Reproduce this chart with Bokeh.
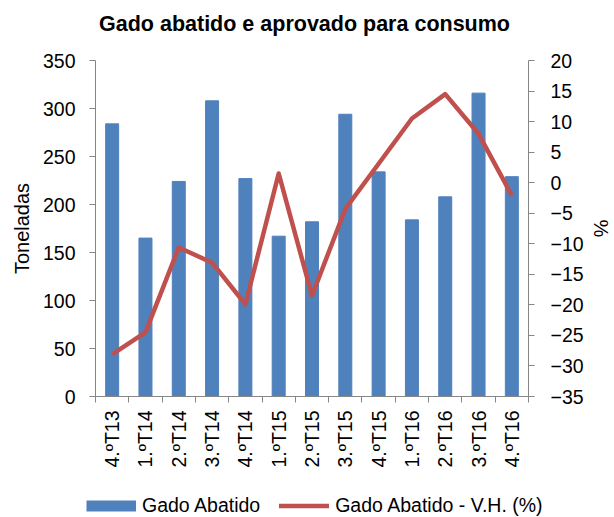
from bokeh.plotting import figure
from bokeh.layouts import column
from bokeh.models import (Range1d, LinearAxis, FixedTicker, Legend, LegendItem,
                          ColumnDataSource, Label)
from bokeh.embed import file_html
from bokeh.resources import INLINE

title_text = "Gado abatido e aprovado para consumo"
categories = ["4.ºT13", "1.ºT14", "2.ºT14", "3.ºT14", "4.ºT14", "1.ºT15", "2.ºT15",
              "3.ºT15", "4.ºT15", "1.ºT16", "2.ºT16", "3.ºT16", "4.ºT16"]
gado_abatido = [284, 165, 224, 308, 227, 167, 182, 294, 234, 184, 208, 316, 229]
variacao_homologa = [-28.1, -24.5, -10.6, -13.1, -19.9, 1.5, -18.5, -4.3, 3.1, 10.5, 14.5, 8.0, -2.1]
left_ticks = [0, 50, 100, 150, 200, 250, 300, 350]
right_ticks = [-35, -30, -25, -20, -15, -10, -5, 0, 5, 10, 15, 20]
series_names = ["Gado Abatido", "Gado Abatido - V.H. (%)"]

FONT = "Liberation Sans"
AXIS_COLOR = "#868686"
BLUE = "#4F81BD"
RED = "#C0504D"

n = len(categories)
xs = list(range(n))
src = ColumnDataSource(dict(x=xs, cat=categories, ton=gado_abatido, vh=variacao_homologa))

# ---- title strip ----
tt = figure(width=614, height=42, x_range=Range1d(0, 1), y_range=Range1d(0, 1),
            output_backend="svg", toolbar_location=None, x_axis_type=None, y_axis_type=None,
            min_border_left=0, min_border_right=0, min_border_top=0, min_border_bottom=0)
tt.frame_align = False
tt.outline_line_color = None
tt.grid.visible = False
tt.add_layout(Label(x=304, y=19, x_units="screen", y_units="screen", text=title_text,
                    text_align="center", text_baseline="middle", text_font=FONT,
                    text_font_size="21.5px", text_font_style="bold", text_color="black"))

# ---- main chart ----
p = figure(width=614, height=452, x_range=Range1d(-0.5, n - 0.5), y_range=Range1d(0, 350),
           output_backend="svg", toolbar_location=None,
           min_border_left=95, min_border_right=73, min_border_top=18, min_border_bottom=98)
p.frame_align = False
p.outline_line_color = None
p.grid.visible = False
p.background_fill_color = "white"
p.border_fill_color = "white"

p.extra_y_ranges = {"pct": Range1d(-35, 20)}

bars = p.vbar(x="x", top="ton", width=0.39, source=src, fill_color=BLUE, line_color=BLUE)
line = p.line(x="x", y="vh", source=src, y_range_name="pct", line_color=RED, line_width=4.5,
              line_join="round")

# x axis
xa = p.xaxis[0]
xa.ticker = FixedTicker(ticks=xs, minor_ticks=[i - 0.5 for i in range(n + 1)])
xa.major_label_overrides = {i: c for i, c in zip(xs, categories)}
xa.major_label_orientation = 3.14159265 / 2
xa.major_tick_out = 0
xa.major_tick_in = 0
xa.minor_tick_out = 6
xa.minor_tick_in = 0
xa.major_label_standoff = 8

# left axis
ya = p.yaxis[0]
ya.ticker = FixedTicker(ticks=left_ticks)
ya.axis_label = "Toneladas"
ya.major_tick_out = 6
ya.major_tick_in = 0
ya.major_label_standoff = 14
ya.axis_label_standoff = 7

# right axis
ra = LinearAxis(y_range_name="pct", ticker=FixedTicker(ticks=right_ticks), axis_label="%")
ra.major_tick_out = 6
ra.major_tick_in = 0
ra.major_label_standoff = 16
ra.axis_label_standoff = 3
p.add_layout(ra, "right")

for ax in [xa, ya, ra]:
    ax.axis_line_color = AXIS_COLOR
    ax.major_tick_line_color = AXIS_COLOR
    ax.minor_tick_line_color = AXIS_COLOR if ax is xa else None
    ax.major_label_text_font = FONT
    ax.major_label_text_font_size = "19.5px"
    ax.major_label_text_color = "black"
    ax.axis_label_text_font = FONT
    ax.axis_label_text_font_size = "20px"
    ax.axis_label_text_font_style = "normal"
    ax.axis_label_text_color = "black"

# ---- legend strip; proxy renderers sit outside this strip's visible range ----
lg = figure(width=614, height=23, x_range=Range1d(-100, -99), y_range=Range1d(0, 1),
            output_backend="svg", toolbar_location=None, x_axis_type=None, y_axis_type=None,
            min_border_left=0, min_border_right=0, min_border_top=0, min_border_bottom=0)
lg.frame_align = False
lg.outline_line_color = None
lg.grid.visible = False
leg_bar = lg.line(x="x", y="ton", source=src, line_color=BLUE, line_width=11, line_cap="butt")
leg_line = lg.line(x="x", y="vh", source=src, line_color=RED, line_width=4.5, line_cap="round")

legend = Legend(items=[LegendItem(label=series_names[0], renderers=[leg_bar]),
                       LegendItem(label=series_names[1], renderers=[leg_line])],
                location=(86, 0), orientation="horizontal")
legend.glyph_width = 50
legend.glyph_height = 23
legend.label_height = 23
legend.label_standoff = 6
legend.spacing = 19
legend.padding = 0
legend.margin = 0
legend.border_line_color = None
legend.background_fill_alpha = 0
legend.label_text_font = FONT
legend.label_text_font_size = "19.5px"
legend.label_text_color = "black"
legend.label_text_baseline = "middle"
lg.add_layout(legend, "center")

layout = column(tt, p, lg, spacing=0)
open("out.html", "w").write(file_html(layout, INLINE))
